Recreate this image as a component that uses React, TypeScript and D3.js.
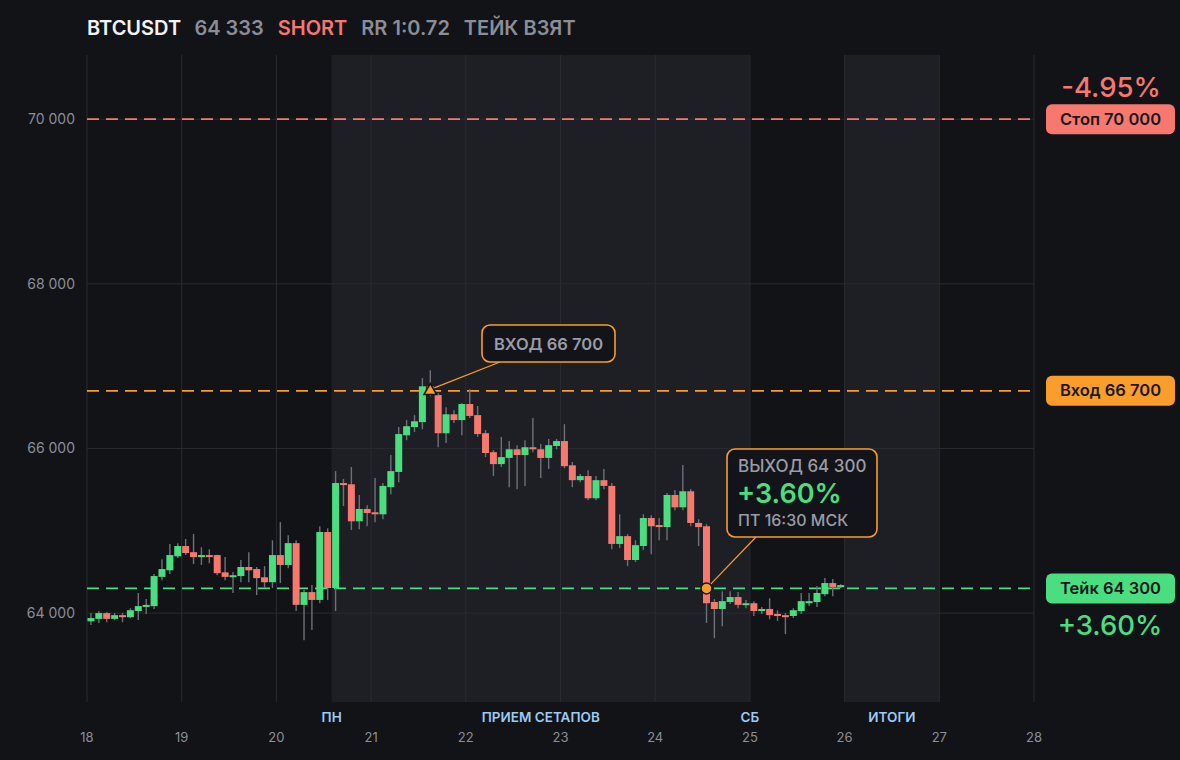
import * as d3 from "d3";

// 2h candles, starting on day 18 at 00:00: [open, high, low, close]
const candles: [number, number, number, number][] = [
  [63900, 64000, 63855, 63940], [63930, 64025, 63880, 64000], [64000, 64010, 63890, 63930], [63930, 64000, 63915, 63975],
  [63975, 64000, 63890, 63950], [63950, 64060, 63940, 64035], [64025, 64245, 63915, 64085], [64075, 64170, 63990, 64100],
  [64085, 64475, 64050, 64450], [64440, 64655, 64400, 64535], [64520, 64840, 64475, 64705], [64690, 64850, 64670, 64815],
  [64815, 64900, 64705, 64730], [64740, 64960, 64595, 64680], [64680, 64800, 64585, 64705], [64705, 64775, 64605, 64680],
  [64705, 64710, 64460, 64485], [64495, 64680, 64400, 64440], [64440, 64500, 64245, 64460], [64450, 64645, 64375, 64560],
  [64560, 64740, 64375, 64520], [64535, 64560, 64220, 64425], [64435, 64570, 64305, 64375], [64375, 64885, 64305, 64705],
  [64705, 65105, 64365, 64585], [64585, 64945, 64545, 64850], [64850, 64885, 64025, 64100], [64100, 64280, 63670, 64255],
  [64255, 64340, 63795, 64160], [64160, 65055, 64120, 64985], [64985, 65030, 64160, 64305], [64305, 65725, 64025, 65580],
  [65580, 65630, 65300, 65555], [65565, 65775, 65010, 65115], [65115, 65435, 65020, 65265], [65265, 65310, 65055, 65215],
  [65225, 65640, 65105, 65200], [65200, 65580, 65140, 65545], [65530, 65920, 65445, 65725], [65715, 66260, 65590, 66175],
  [66160, 66345, 66100, 66270], [66260, 66405, 66200, 66330], [66320, 66855, 66235, 66755], [66755, 66950, 66635, 66685],
  [66650, 66670, 66015, 66185], [66185, 66500, 66065, 66415], [66415, 66465, 66310, 66345], [66345, 66550, 66160, 66540],
  [66540, 66720, 66370, 66395], [66405, 66515, 66140, 66175], [66185, 66225, 65895, 65945], [65955, 65980, 65665, 65810],
  [65810, 66140, 65775, 65895], [65885, 66090, 65530, 65990], [65990, 66040, 65505, 65920], [65920, 66100, 65545, 66015],
  [66015, 66370, 65955, 65990], [65990, 66055, 65640, 65885], [65885, 66115, 65750, 66040], [66030, 66115, 65990, 66090],
  [66090, 66295, 65760, 65785], [65795, 65835, 65530, 65615], [65615, 65690, 65590, 65665], [65665, 65735, 65370, 65395],
  [65395, 65665, 65370, 65615], [65615, 65750, 65505, 65545], [65545, 65580, 64775, 64840], [64840, 65200, 64790, 64935],
  [64935, 64960, 64570, 64645], [64645, 64885, 64620, 64825], [64815, 65200, 64765, 65155], [65155, 65190, 64715, 65055],
  [65070, 65155, 64885, 65045], [65045, 65460, 64885, 65435], [65435, 65495, 65250, 65285], [65285, 65800, 65250, 65480],
  [65480, 65505, 65055, 65095], [65095, 65140, 64815, 65045], [65055, 65080, 63880, 64120], [64135, 64170, 63695, 64050],
  [64050, 64265, 63840, 64145], [64135, 64265, 64110, 64195], [64195, 64255, 64060, 64100], [64100, 64160, 64060, 64120],
  [64120, 64145, 63965, 64025], [64025, 64075, 63990, 64050], [64050, 64180, 63925, 63975], [63990, 64035, 63905, 63965],
  [63975, 64000, 63745, 63950], [63965, 64060, 63940, 64035], [64025, 64245, 63990, 64145], [64120, 64245, 64085, 64145],
  [64135, 64330, 64075, 64245], [64230, 64425, 64205, 64365], [64365, 64415, 64205, 64315], [64315, 64350, 64305, 64340],
];

const startDay = 18;
const candleDays = 2 / 24;
const dayTicks = [18, 19, 20, 21, 22, 23, 24, 25, 26, 27, 28];
const priceTicks = [64000, 66000, 68000, 70000];

const symbol = "BTCUSDT";
const lastPrice = 64333;
const side = "SHORT";
const rrLabel = "RR 1:0.72";
const status = "ТЕЙК ВЗЯТ";

const stopPrice = 70000;
const entryPrice = 66700;
const takePrice = 64300;
const entryIndex = 43;
const exitIndex = 78;
const exitTime = "ПТ 16:30 МСК";

const sessionBands = [
  { from: 20 + 14 / 24, to: 25 },
  { from: 26, to: 27 },
];
const sessionLabels = [
  { label: "ПН", day: 20 + 14 / 24 },
  { label: "ПРИЕМ СЕТАПОВ", day: (20 + 14 / 24 + 25) / 2 },
  { label: "СБ", day: 25 },
  { label: "ИТОГИ", day: 26.5 },
];

const BG = "#121317";
const BAND = "#1e1f24";
const GRID = "#2a2b30";
const GREY = "#8b8e97";
const GREEN = "#4ade80";
const RED = "#f6786f";
const ORANGE = "#fa9d2b";
const FONT = "Inter, 'Noto Sans', sans-serif";

const fmt = (v: number) => d3.format(",")(v).replace(/,/g, " ");

export default function App() {
  const x = d3.scaleLinear().domain([18, 28]).range([87, 1034]);
  const y = d3.scaleLinear().domain([62920, 70780]).range([702, 55]);
  const [top, bottom] = [55, 702];
  const [left, right] = [87, 1034];
  const bodyW = 7;
  const cx = (i: number) => x(startDay + (i + 0.5) * candleDays);

  const entryX = cx(entryIndex);
  const entryY = y(entryPrice);
  const exitX = cx(exitIndex);
  const exitY = y(takePrice);
  const tri = d3.symbol().type(d3.symbolTriangle).size(70)();

  const levels = [
    { price: stopPrice, color: RED, label: `Стоп ${fmt(stopPrice)}` },
    { price: entryPrice, color: ORANGE, label: `Вход ${fmt(entryPrice)}` },
    { price: takePrice, color: GREEN, label: `Тейк ${fmt(takePrice)}` },
  ];

  const stopPct = ((entryPrice - stopPrice) / entryPrice) * 100;
  const takePct = ((entryPrice - takePrice) / entryPrice) * 100;

  return (
    <div style={{ position: "fixed", left: 0, top: 0, width: 1180, height: 760, background: BG }}>
      <svg width={1180} height={760} style={{ display: "block", fontFamily: FONT }}>
        <rect width={1180} height={760} fill={BG} />

        {sessionBands.map((b, i) => (
          <rect key={i} x={x(b.from)} y={top} width={x(b.to) - x(b.from)} height={bottom - top} fill={BAND} />
        ))}

        {dayTicks.map((d) => (
          <line key={d} x1={x(d)} x2={x(d)} y1={top} y2={bottom} stroke={GRID} strokeWidth={1} />
        ))}
        {priceTicks.map((p) => (
          <line key={p} x1={left} x2={right} y1={y(p)} y2={y(p)} stroke={GRID} strokeWidth={1} />
        ))}

        {priceTicks.map((p) => (
          <text key={p} x={75} y={y(p) + 5} textAnchor="end" fontSize={14} fill={GREY}>
            {fmt(p)}
          </text>
        ))}
        {dayTicks.map((d) => (
          <text key={d} x={x(d)} y={742} textAnchor="middle" fontSize={13} fill={GREY}>
            {d}
          </text>
        ))}
        {sessionLabels.map((s) => (
          <text key={s.label} x={x(s.day)} y={722} textAnchor="middle" fontSize={13.5} fontWeight={600} fill="#9ccbf5">
            {s.label}
          </text>
        ))}

        {levels.map((l) => (
          <line key={l.price} x1={left} x2={right} y1={y(l.price)} y2={y(l.price)} stroke={l.color}
            strokeWidth={1.8} strokeDasharray="12 7" />
        ))}

        {candles.map(([o, h, l, c], i) => {
          const up = c >= o;
          const yt = y(Math.max(o, c));
          const yb = y(Math.min(o, c));
          return (
            <g key={i}>
              <line x1={cx(i)} x2={cx(i)} y1={y(h)} y2={y(l)} stroke="#6e7179" strokeWidth={1.4} />
              <rect x={cx(i) - bodyW / 2} y={yt} width={bodyW} height={Math.max(2, yb - yt)} fill={up ? GREEN : RED} />
            </g>
          );
        })}

        {/* entry marker + callout */}
        <line x1={entryX + 4} y1={entryY - 3} x2={500} y2={362} stroke={ORANGE} strokeWidth={1.2} />
        <path d={tri ?? undefined} transform={`translate(${entryX},${entryY})`} fill={ORANGE} stroke="#121317" strokeWidth={1.5} />
        <rect x={482} y={325} width={133} height={37} rx={8} fill="#131419" stroke={ORANGE} strokeWidth={1.6} />
        <text x={548.5} y={349.5} textAnchor="middle" fontSize={16.5} fontWeight={600} fill="#9a9da5">
          ВХОД {fmt(entryPrice)}
        </text>

        {/* exit marker + callout */}
        <line x1={exitX + 3} y1={exitY - 3} x2={756} y2={537} stroke={ORANGE} strokeWidth={1.2} />
        <circle cx={exitX} cy={exitY} r={5.5} fill={ORANGE} stroke="#121317" strokeWidth={1.5} />
        <rect x={727} y={449} width={150} height={88} rx={8} fill="#131419" stroke={ORANGE} strokeWidth={1.6} />
        <text x={738} y={472} fontSize={17} fontWeight={500} fill="#9a9da5">ВЫХОД {fmt(takePrice)}</text>
        <text x={737} y={503} fontSize={27} fontWeight={600} fill={GREEN}>+{takePct.toFixed(2)}%</text>
        <text x={738} y={526} fontSize={16} fontWeight={500} fill="#9a9da5">{exitTime}</text>

        {/* right price tags */}
        {levels.map((l) => (
          <g key={l.price}>
            <rect x={1046} y={y(l.price) - 15} width={129} height={30} rx={6} fill={l.color} />
            <text x={1110.5} y={y(l.price) + 5.5} textAnchor="middle" fontSize={16.5} fontWeight={600} fill="#17181c">
              {l.label}
            </text>
          </g>
        ))}
        <text x={1111} y={97} textAnchor="middle" fontSize={27.5} fontWeight={500} fill={RED}>
          {stopPct.toFixed(2)}%
        </text>
        <text x={1110} y={635} textAnchor="middle" fontSize={27.5} fontWeight={500} fill={GREEN}>
          +{takePct.toFixed(2)}%
        </text>

        {/* header */}
        <text x={87} y={35} fontSize={20} fontWeight={600}>
          <tspan fill="#f2f3f5">{symbol}</tspan>
          <tspan dx={14} fill={GREY}>{fmt(lastPrice)}</tspan>
          <tspan dx={14} fill={RED}>{side}</tspan>
          <tspan dx={14} fill={GREY}>{rrLabel}</tspan>
          <tspan dx={14} fill={GREY}>{status}</tspan>
        </text>
      </svg>
    </div>
  );
}
